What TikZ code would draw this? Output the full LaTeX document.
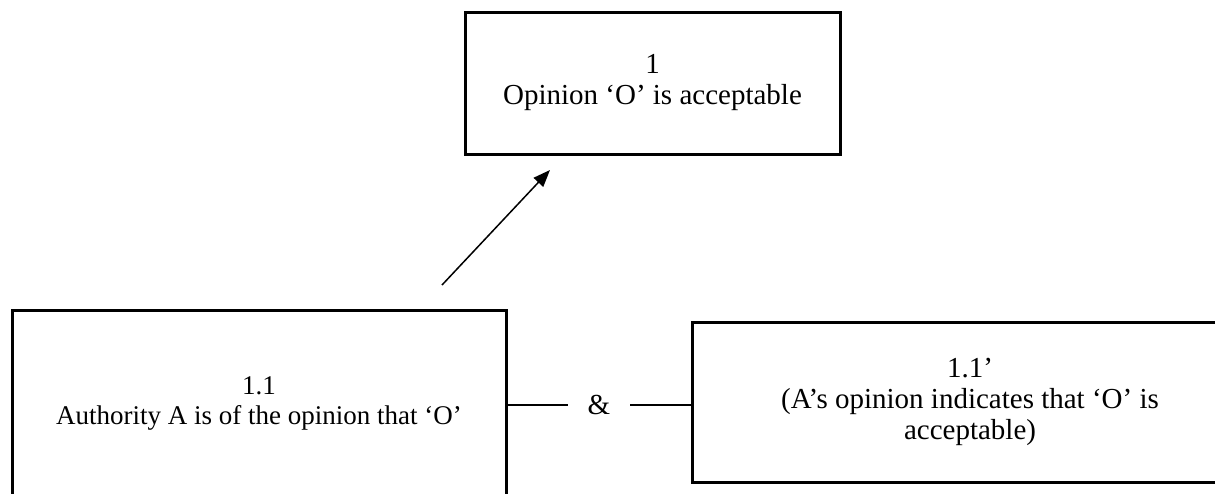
\documentclass[tikz,border=0pt]{standalone}
\usepackage{fontspec}
\setmainfont{Liberation Serif}
\usetikzlibrary{arrows.meta}
\begin{document}
\begin{tikzpicture}[x=1pt,y=-1pt,
  box/.style={draw,line width=3pt,align=center,inner sep=0pt,font=\fontsize{29}{31}\selectfont},
  conn/.style={line width=1.5pt},
  arr/.style={line width=1.5pt,-{Triangle[length=17pt,width=13pt]}}]
\path[use as bounding box, clip] (0,0) rectangle (1215,493);
\node[box,minimum width=375pt,minimum height=142pt] (tb) at (652.5,83) {1\\Opinion ‘O’ is acceptable};
\node[box,minimum width=494pt,minimum height=186pt,font=\fontsize{27}{30}\selectfont] (lb) at (259,403) {1.1\\Authority A is of the opinion that ‘O’};
\node[box,minimum width=556pt,minimum height=160pt] (rb) at (970,402) {1.1’\\(A’s opinion indicates that ‘O’ is\\acceptable)};
\node[font=\fontsize{29}{31}\selectfont,minimum width=62pt,inner sep=0pt] (amp) at (599,405) {\raisebox{-5pt}{\&}};
\draw[conn] (amp.west) -- (amp.west -| lb.east);
\draw[conn] (amp.east) -- (amp.east -| rb.west);
\coordinate (a1) at (442,285);
\coordinate (a2) at (550,170);
\draw[arr] (a1) -- (a2);
\end{tikzpicture}
\end{document}
